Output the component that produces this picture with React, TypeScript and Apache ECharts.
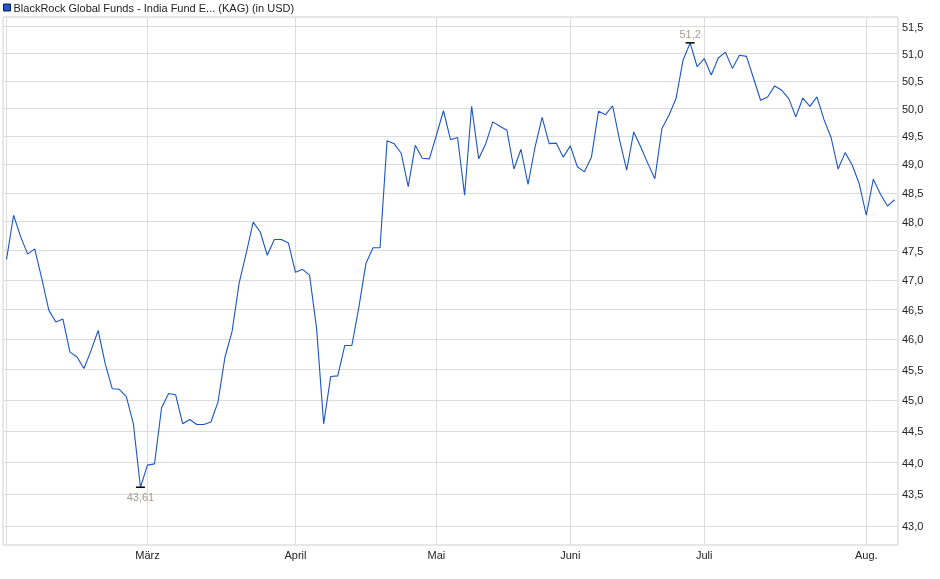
import { useEffect, useRef } from 'react';
import * as echarts from 'echarts';

// Fondsname wie in der Vorlage (gekürzt).
const seriesName = 'BlackRock Global Funds - India Fund E... (KAG) (in USD)';

// Handelstage 3. Feb. – 7. Aug. 2025, ohne Wochenenden und Bankfeiertage (Luxemburg).
const firstDay = '2025-02-03';
const lastDay = '2025-08-07';
const holidays = ['2025-04-18', '2025-04-21', '2025-05-01', '2025-05-09', '2025-05-29', '2025-06-09', '2025-06-23'];

function tradingDays(from: string, to: string): string[] {
  const out: string[] = [];
  const d = new Date(from + 'T00:00:00Z');
  const end = new Date(to + 'T00:00:00Z');
  while (d <= end) {
    const iso = d.toISOString().slice(0, 10);
    const wd = d.getUTCDay();
    if (wd !== 0 && wd !== 6 && !holidays.includes(iso)) out.push(iso);
    d.setUTCDate(d.getUTCDate() + 1);
  }
  return out;
}

const dates = tradingDays(firstDay, lastDay);

const prices = [
  47.35, 48.11, 47.74, 47.44, 47.53, 47.02, 46.49, 46.29, 46.34, 45.79,
  45.71, 45.52, 45.82, 46.15, 45.60, 45.19, 45.18, 45.06, 44.62, 43.61,
  43.96, 43.98, 44.88, 45.11, 45.09, 44.62, 44.69, 44.61, 44.61, 44.65,
  44.97, 45.71, 46.13, 46.94, 47.45, 47.99, 47.82, 47.42, 47.69, 47.69,
  47.63, 47.13, 47.18, 47.08, 46.18, 44.62, 45.39, 45.40, 45.90, 45.90,
  46.54, 47.28, 47.55, 47.55, 49.42, 49.37, 49.20, 48.61, 49.34, 49.11,
  49.10, 49.52, 49.96, 49.44, 49.48, 48.46, 50.04, 49.10, 49.37, 49.76,
  49.68, 49.61, 48.92, 49.27, 48.65, 49.31, 49.84, 49.37, 49.38, 49.13,
  49.33, 48.96, 48.87, 49.13, 49.95, 49.89, 50.05, 49.43, 48.90, 49.58,
  49.31, 49.02, 48.75, 49.64, 49.88, 50.18, 50.88, 51.20, 50.76, 50.91,
  50.61, 50.92, 51.03, 50.73, 50.97, 50.95, 50.55, 50.15, 50.21, 50.41,
  50.33, 50.18, 49.85, 50.19, 50.04, 50.21, 49.80, 49.48, 48.92, 49.21,
  48.99, 48.66, 48.11, 48.74, 48.48, 48.27, 48.38,
];

// Y-Achse (logarithmisch) und ihre Beschriftungen.
const yMin = 42.71;
const yMax = 51.68;
const yTicks = [43.0, 43.5, 44.0, 44.5, 45.0, 45.5, 46.0, 46.5, 47.0, 47.5, 48.0, 48.5, 49.0, 49.5, 50.0, 50.5, 51.0, 51.5];

// Monatsanfänge (erster Handelstag) und Monatsnamen.
const monthStarts = ['2025-02-03', '2025-03-03', '2025-04-01', '2025-05-02', '2025-06-02', '2025-07-01', '2025-08-01'];
const monthLabels = ['', 'März', 'April', 'Mai', 'Juni', 'Juli', 'Aug.'];

const FONT = '"Liberation Sans", Arial, sans-serif';
const LINE_BLUE = '#1b55c6';
const GRID_GREY = '#dcdcdc';

const fmtTick = (v: number) => v.toFixed(1).replace('.', ',');
const fmtValue = (v: number) => String(v).replace('.', ',');

export default function App() {
  const ref = useRef<HTMLDivElement>(null);

  useEffect(() => {
    if (!ref.current) return;
    const chart = echarts.init(ref.current, undefined, { renderer: 'svg' });
    chart.setOption(buildOption());
    return () => chart.dispose();
  }, []);

  return <div ref={ref} style={{ position: 'fixed', left: 0, top: 0, width: 940, height: 579 }} />;
}

function buildOption(): echarts.EChartsOption {
  const monthIdx = monthStarts.map((d) => dates.indexOf(d));

  return {
    animation: false,
    textStyle: { fontFamily: FONT },
    legend: {
      left: 3,
      top: 2,
      padding: 0,
      icon: 'rect',
      itemWidth: 7,
      itemHeight: 7,
      selectedMode: false,
      textStyle: { fontSize: 11, color: '#222', fontFamily: FONT, padding: [0, 0, 0, -2] },
      data: [{ name: seriesName, itemStyle: { color: '#2457c5', borderColor: '#0a1f5c', borderWidth: 1 } }],
    },
    grid: {
      left: 3,
      right: 42,
      top: 17,
      bottom: 34,
      show: true,
      borderColor: '#cfcfcf',
      borderWidth: 1,
    },
    xAxis: {
      type: 'category',
      data: dates,
      boundaryGap: true,
      axisLine: { show: false },
      axisTick: { show: false },
      splitLine: { show: false },
      axisLabel: {
        // nur die Monatsanfänge beschriften (Februar bleibt leer)
        interval: (i: number) => monthIdx.indexOf(i) > 0,
        formatter: (_v: string, i: number) => monthLabels[monthIdx.indexOf(i)] ?? '',
        margin: 4,
        fontSize: 11,
        color: '#222',
        fontFamily: FONT,
      },
    },
    yAxis: {
      type: 'log',
      logBase: 10,
      min: yMin,
      max: yMax,
      axisLine: { show: false },
      axisTick: { show: false },
      axisLabel: { show: false },
      splitLine: { show: false },
    },
    series: [
      {
        type: 'line',
        name: seriesName,
        data: prices,
        symbol: 'none',
        showSymbol: false,
        z: 3,
        color: LINE_BLUE,
        lineStyle: { color: LINE_BLUE, width: 1.1 },
        emphasis: { disabled: true },
        // Gitterlinien: log-Skala hat keine 0,5er Ticks, daher als markLine
        markLine: {
          silent: true,
          z: 1,
          symbol: ['none', 'none'],
          lineStyle: { color: GRID_GREY, width: 1, type: 'solid' },
          label: { show: false },
          data: [
            ...yTicks.map((v) => ({
              yAxis: v,
              label: {
                show: true,
                position: 'end' as const,
                distance: 4,
                formatter: fmtTick(v),
                color: '#222',
                fontSize: 11,
                fontFamily: FONT,
              },
            })),
            ...monthStarts.map((d) => ({ xAxis: d, label: { show: false } })),
          ],
        },
        markPoint: {
          silent: true,
          symbol: 'rect',
          symbolSize: [9, 1.5],
          itemStyle: { color: '#000' },
          label: {
            formatter: (p: any) => fmtValue(p.value),
            color: '#a39b90',
            fontSize: 11,
            fontFamily: FONT,
          },
          data: [
            { type: 'min', label: { position: 'bottom', distance: 4 } },
            { type: 'max', label: { position: 'top', distance: 3 } },
          ],
        },
      },
    ],
  };
}
